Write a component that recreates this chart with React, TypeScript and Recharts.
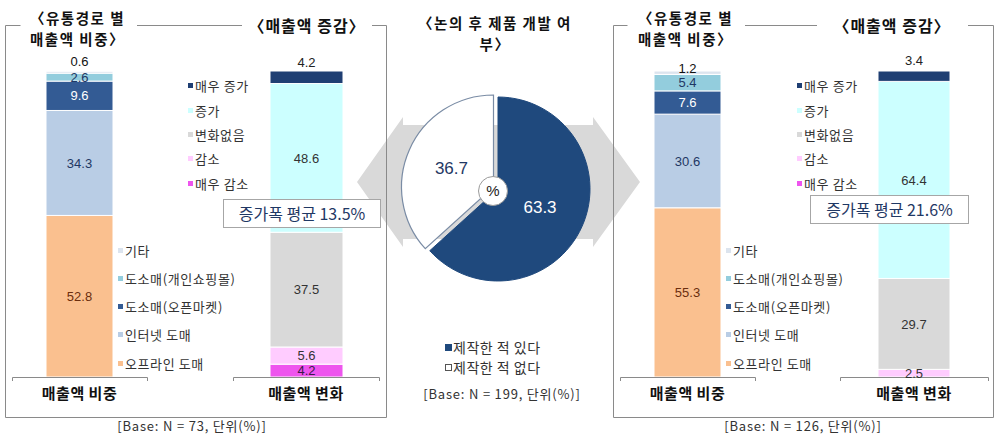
import React from 'react';
import { BarChart, Bar, XAxis, YAxis, LabelList, PieChart, Pie, Cell } from 'recharts';

// ---------- data ----------
const channelKeys = ['offline', 'internet', 'openMarket', 'personalMall', 'etc'];
const channelNames = ['오프라인 도매', '인터넷 도매', '도소매(오픈마켓)', '도소매(개인쇼핑몰)', '기타'];
const shareLeft = [52.8, 34.3, 9.6, 2.6, 0.6];
const shareRight = [55.3, 30.6, 7.6, 5.4, 1.2];

const changeKeys = ['veryDown', 'down', 'same', 'up', 'veryUp'];
const changeNames = ['매우 감소', '감소', '변화없음', '증가', '매우 증가'];
const changeLeft = [4.2, 5.6, 37.5, 48.6, 4.2];
const changeRight = [0, 2.5, 29.7, 64.4, 3.4];

const pieNames = ['제작한 적 있다', '제작한 적 없다'];
const pieValues = [63.3, 36.7];

const shareCategory = '매출액 비중';
const changeCategory = '매출액 변화';
const shareTitle = ['〈유통경로 별', '매출액 비중〉'];
const changeTitle = '〈매출액 증감〉';
const pieTitle = ['〈논의 후 제품 개발 여', '부〉'];
const avgLeft = '증가폭 평균 13.5%';
const avgRight = '증가폭 평균 21.6%';
const baseLeft = '[Base: N = 73,  단위(%)]';
const basePie = '[Base: N = 199,  단위(%)]';
const baseRight = '[Base: N = 126,  단위(%)]';

// ---------- styles ----------
const W = 995;
const H = 442;
const FONT_KR = '"Noto Sans CJK KR", "Noto Sans", sans-serif';
const FONT_NUM = '"Liberation Sans", Arial, sans-serif';

const channelColors = ['#FAC08F', '#B9CDE5', '#335B94', '#93CDDD', '#DCE4EE'];
const channelLabelColors = ['#6B2E0E', '#1F3864', '#FFFFFF', '#1F3864', '#111111'];
const changeColors = ['#EE55EE', '#FFCCFF', '#D9D9D9', '#CCFFFF', '#1F3F73'];
const changeLabelColors = ['#3A1A4A', '#333333', '#333333', '#333333', '#222222'];
const PIE_DARK = '#1F497D';

const PLOT_TOP = 71;
const PLOT_BOTTOM = 377;
const AXIS_H = 30;

type Spec = { x0: number; x1: number; barSize: number; topOffset: number };
const specShareL: Spec = { x0: 12, x1: 147, barSize: 67, topOffset: 5 };
const specChangeL: Spec = { x0: 233, x1: 379, barSize: 73, topOffset: 4 };
const specShareR: Spec = { x0: 620, x1: 755, barSize: 67, topOffset: -2 };
const specChangeR: Spec = { x0: 840, x1: 988, barSize: 72, topOffset: 6 };

function StackBar(props: {
  category: string;
  keys: string[];
  values: number[];
  colors: string[];
  labelColors: string[];
  spec: Spec;
}) {
  const { category, keys, values, colors, labelColors, spec } = props;
  const row: Record<string, any> = { name: category };
  keys.forEach((k, i) => (row[k] = values[i]));
  return (
    <div style={{ position: 'absolute', left: 0, top: 0 }}>
      <BarChart
        width={W}
        height={H}
        data={[row]}
        margin={{ top: PLOT_TOP, left: spec.x0, right: W - spec.x1, bottom: H - PLOT_BOTTOM - AXIS_H }}
        barSize={spec.barSize}
      >
        <XAxis
          dataKey="name"
          axisLine={false}
          tickLine={false}
          height={AXIS_H}
          tickMargin={5}
          interval={0}
          tick={{ fontSize: 15, fontWeight: 700, fill: '#111', fontFamily: FONT_KR, letterSpacing: 0.5 }}
        />
        <YAxis hide type="number" domain={[0, 100]} allowDataOverflow />
        {keys.map((k, i) => (
          <Bar
            key={k}
            dataKey={k}
            stackId="s"
            fill={colors[i]}
            stroke="#ffffff"
            strokeWidth={1}
            isAnimationActive={false}
          >
            <LabelList
              dataKey={k}
              position={i === keys.length - 1 ? 'top' : 'center'}
              offset={i === keys.length - 1 ? spec.topOffset : 5}
              fill={labelColors[i]}
              fontSize={13}
              fontFamily={FONT_NUM}
              formatter={(v: any) => (Number(v) > 0 ? Number(v).toFixed(1) : '')}
            />
          </Bar>
        ))}
      </BarChart>
    </div>
  );
}

const RAD = Math.PI / 180;
const pieLabel = (which: number, color: string) => (p: any) => {
  if (p.index !== which) return null;
  const r = p.outerRadius * 0.5;
  const x = p.cx + r * Math.cos(-p.midAngle * RAD);
  const y = p.cy + r * Math.sin(-p.midAngle * RAD);
  return (
    <text x={x} y={y} fill={color} textAnchor="middle" dominantBaseline="central" fontSize={17} fontFamily={FONT_NUM}>
      {Number(p.value).toFixed(1)}
    </text>
  );
};

function Txt(props: {
  x: number; y: number; text: string; size: number; bold?: boolean; color?: string;
  align?: 'left' | 'center'; font?: string; ls?: number; lh?: number;
}) {
  const { x, y, text, size, bold, color, align, font, ls, lh: lhIn } = props;
  const lh = lhIn || size + 4;
  const style: React.CSSProperties = {
    position: 'absolute',
    top: y - lh / 2,
    height: lh,
    lineHeight: `${lh}px`,
    fontSize: size,
    fontWeight: bold ? 700 : 400,
    color: color || '#222',
    fontFamily: font || FONT_KR,
    whiteSpace: 'nowrap',
    letterSpacing: ls || 0,
  };
  if (align === 'center') {
    style.left = x - 150;
    style.width = 300;
    style.textAlign = 'center';
  } else {
    style.left = x;
  }
  return <div style={style}>{text}</div>;
}

// two-line title block (single text block with a line break)
function Title2(props: { x: number; top: number; lines: string[]; align?: 'left' | 'center' }) {
  const { x, top, lines, align } = props;
  const style: React.CSSProperties = {
    position: 'absolute',
    top,
    lineHeight: '21px',
    fontSize: 14.5,
    fontWeight: 700,
    color: '#111',
    fontFamily: FONT_KR,
    whiteSpace: 'nowrap',
    letterSpacing: 1.5,
  };
  if (align === 'center') {
    style.left = x - 150;
    style.width = 300;
    style.textAlign = 'center';
  } else {
    style.left = x;
  }
  return (
    <div style={style}>
      {lines[0]}
      <br />
      {lines[1]}
    </div>
  );
}

function LegendList(props: { names: string[]; colors: string[]; x: number; ys: number[] }) {
  const { names, colors, x, ys } = props;
  return (
    <>
      {names.map((n, i) => (
        <div key={n}>
          <div
            style={{ position: 'absolute', left: x, top: ys[i] - 2, width: 5, height: 5, background: colors[i] }}
          />
          <Txt x={x + 7} y={ys[i]} text={n} size={13} color="#333" ls={0.6} />
        </div>
      ))}
    </>
  );
}

// legend rows listed top to bottom (reverse of stacking order)
const rev = <T,>(a: T[]) => a.slice().reverse();

export default function App() {
  const pieData = pieNames.map((n, i) => ({ name: n, value: pieValues[i] }));
  const channelLegendYs = [250, 278, 306, 334, 363];
  const changeLegendYs = [85, 110, 134, 158, 183];
  const frame = '#8a8a8a';
  return (
    <div style={{ position: 'absolute', left: 0, top: 0, width: W, height: H, background: '#fff', overflow: 'hidden' }}>
      <svg width={W} height={H} style={{ position: 'absolute', left: 0, top: 0 }}>
        <polygon
          points="357,182 403,117 403,125 593,125 593,117 640,182 593,247 593,239 403,239 403,247"
          fill="#D9D9D9"
        />
        <g fill="none" stroke={frame} strokeWidth={1}>
          <path d="M20.5,25.5 H5.5 V417.5 H386.5 V25.5 H372" />
          <path d="M137,25.5 H242" />
          <path d="M627.5,25.5 H613.5 V417.5 H993.5 V25.5 H968" />
          <path d="M745,25.5 H817" />
          <path d="M12.5,381 V377.5 H147.5 V381" />
          <path d="M233.5,381 V377.5 H379.5 V381" />
          <path d="M620.5,381 V377.5 H755.5 V381" />
          <path d="M840.5,381 V377.5 H988.5 V381" />
        </g>
      </svg>

      <StackBar category={shareCategory} keys={channelKeys} values={shareLeft} colors={channelColors} labelColors={channelLabelColors} spec={specShareL} />
      <StackBar category={changeCategory} keys={changeKeys} values={changeLeft} colors={changeColors} labelColors={changeLabelColors} spec={specChangeL} />
      <StackBar category={shareCategory} keys={channelKeys} values={shareRight} colors={channelColors} labelColors={channelLabelColors} spec={specShareR} />
      <StackBar category={changeCategory} keys={changeKeys} values={changeRight} colors={changeColors} labelColors={changeLabelColors} spec={specChangeR} />

      <div style={{ position: 'absolute', left: 0, top: 0 }}>
        <PieChart width={W} height={H} margin={{ top: 0, left: 0, right: 0, bottom: 0 }}>
          <Pie
            data={pieData}
            dataKey="value"
            cx={498}
            cy={189}
            outerRadius={92}
            startAngle={90}
            endAngle={-270}
            isAnimationActive={false}
            labelLine={false}
            label={pieLabel(0, '#FFFFFF')}
          >
            <Cell fill={PIE_DARK} stroke={PIE_DARK} />
            <Cell fill="none" stroke="none" />
          </Pie>
          <Pie
            data={pieData}
            dataKey="value"
            cx={493.5}
            cy={187}
            outerRadius={92}
            startAngle={90}
            endAngle={-270}
            isAnimationActive={false}
            labelLine={false}
            label={pieLabel(1, '#1F3864')}
          >
            <Cell fill="none" stroke="none" />
            <Cell fill="#FFFFFF" stroke="#7A8CA5" strokeWidth={1.2} />
          </Pie>
        </PieChart>
      </div>

      <div
        style={{
          position: 'absolute',
          left: 493 - 15,
          top: 191 - 15,
          width: 28,
          height: 28,
          borderRadius: '50%',
          border: '1px solid #9a9a9a',
          background: '#fff',
          textAlign: 'center',
          lineHeight: '28px',
          fontSize: 15,
          fontFamily: FONT_NUM,
          color: '#222',
        }}
      >
        %
      </div>

      {/* titles */}
      <Title2 x={30} top={6.5} lines={shareTitle} />
      <Txt x={307} y={25} text={changeTitle} size={16} bold color="#111" align="center" ls={1} lh={18} />
      <Title2 x={638} top={6.5} lines={shareTitle} />
      <Txt x={892} y={25} text={changeTitle} size={16} bold color="#111" align="center" ls={1} lh={18} />
      <Title2 x={495} top={11.5} lines={pieTitle} align="center" />

      {/* legends */}
      <LegendList names={rev(channelNames)} colors={rev(channelColors)} x={118} ys={channelLegendYs} />
      <LegendList names={rev(changeNames)} colors={rev(changeColors)} x={188} ys={changeLegendYs} />
      <LegendList names={rev(channelNames)} colors={rev(channelColors)} x={726} ys={channelLegendYs} />
      <LegendList names={rev(changeNames)} colors={rev(changeColors)} x={797} ys={changeLegendYs} />

      {/* average boxes */}
      <div
        style={{
          position: 'absolute', left: 223, top: 199, width: 156, height: 27, border: '1px solid #A6A6A6',
          background: '#fff', textAlign: 'center', lineHeight: '27px', fontSize: 16, color: '#1F3864', fontFamily: FONT_KR,
        }}
      >
        {avgLeft}
      </div>
      <div
        style={{
          position: 'absolute', left: 810, top: 195, width: 157, height: 27, border: '1px solid #A6A6A6',
          background: '#fff', textAlign: 'center', lineHeight: '27px', fontSize: 16, color: '#1F3864', fontFamily: FONT_KR,
        }}
      >
        {avgRight}
      </div>

      {/* pie legend */}
      <div style={{ position: 'absolute', left: 445, top: 344, width: 7, height: 7, background: PIE_DARK }} />
      <Txt x={453} y={347} text={pieNames[0]} size={14} color="#333" ls={0.5} />
      <div style={{ position: 'absolute', left: 445, top: 364, width: 5, height: 5, border: '1px solid #555', background: '#fff' }} />
      <Txt x={453} y={367} text={pieNames[1]} size={14} color="#333" ls={0.5} />

      {/* base notes */}
      <Txt x={192} y={425} text={baseLeft} size={13} color="#333" align="center" ls={0.8} />
      <Txt x={502} y={393} text={basePie} size={13} color="#333" align="center" ls={0.8} />
      <Txt x={803} y={425} text={baseRight} size={13} color="#333" align="center" ls={0.8} />
    </div>
  );
}
